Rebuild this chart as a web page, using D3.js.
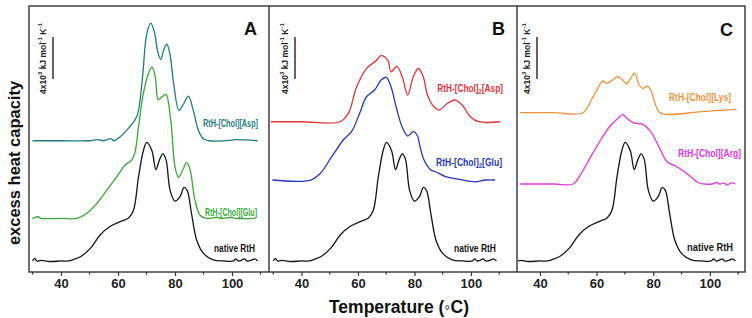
<!DOCTYPE html>
<html>
<head>
<meta charset="utf-8">
<script src="https://cdn.jsdelivr.net/npm/d3@7"></script>
<style>
  body { margin: 0; background: #fff; }
  svg { font-family: "Liberation Sans", Arial, sans-serif; }
</style>
</head>
<body>
<div id="chart"></div>
<script>
// DSC traces, temperature (°C) and excess Cp relative to baseline (10^3 kJ mol-1 K-1)
const nativeT  = [30, 30.8, 31.5, 33, 36, 40, 42.7, 44.5, 46.8, 50.3, 53.8, 57.3, 60.8, 63.7, 65.4, 67.2, 68.9, 70.1, 71.9, 73.3, 74.5, 75.7, 76.8, 78.3, 80.0, 81.7, 83.2, 84.3, 85.8, 87.6, 89.9, 93.4, 97, 100.5, 101.3, 102.2, 103.5, 104.4, 105.2, 107, 108, 109];
const nativeCp = [0, 0.25, 0, 0.05, -0.05, 0, 0, 0.15, 0.4, 1.2, 2.5, 3.3, 3.75, 4.1, 4.8, 8.0, 10.5, 11.3, 10.5, 8.7, 9.6, 10.2, 9.7, 6.7, 5.7, 6.1, 7.0, 6.7, 4.5, 2.0, 0.75, 0.1, 0, 0, 0.2, 0, 0.1, 0.2, 0, 0.1, 0.2, 0];

const aspT  = [30, 40, 50, 53, 55, 57.5, 58.5, 60.2, 63.7, 66.6, 68.4, 70.1, 71.5, 72.8, 74, 75, 76, 77.1, 78.2, 79.5, 81.4, 83, 84.7, 86.4, 88.2, 89.9, 92, 100, 101, 109];
const aspCp = [0, 0, 0, 0.1, 0, 0.2, 0, 0.25, 1.2, 2.3, 5.5, 10.2, 11.2, 10.3, 8.4, 7.75, 8.6, 9.2, 8.3, 5.5, 2.9, 3.5, 4.25, 2.9, 1.0, 0.2, 0, 0.05, 0.1, 0];

const gluT  = [30, 32, 33, 40, 45.6, 49.1, 52.6, 56.1, 59.6, 62.5, 64.8, 66.0, 67.2, 68.9, 70.7, 71.9, 73.0, 74.1, 75.2, 76.8, 78.5, 80.0, 81.2, 82.7, 84.1, 85.3, 87.0, 88.8, 91.1, 95, 96, 100, 101, 108];
const gluCp = [0, 0.15, 0, 0, 0, 0.48, 1.43, 2.7, 3.97, 5.08, 5.55, 6.35, 8.73, 11.9, 13.8, 14.4, 13.6, 11.3, 11.5, 11.8, 9.35, 4.92, 3.9, 4.6, 5.3, 4.6, 1.74, 0.3, 0, 0.1, 0, 0.1, 0, 0];

const asp2T  = [29.1, 40, 53.7, 56.6, 59.5, 63.0, 66.5, 68.2, 70.6, 71.7, 73.8, 75.8, 77.6, 79.6, 81.4, 83.1, 84.6, 86.4, 88.7, 91.6, 94.3, 96.9, 99.8, 102.7, 110.3];
const asp2Cp = [0, 0, 0, 0.8, 3.3, 5.06, 5.84, 6.3, 5.84, 4.76, 5.27, 4.16, 2.54, 4.29, 5.07, 4.29, 2.54, 1.59, 1.11, 1.74, 2.07, 1.59, 0.48, 0, 0];

const glu2T  = [29.7, 43.2, 46.7, 50.7, 54.8, 57.7, 60.6, 63.0, 65.9, 68.2, 70.0, 71.7, 73.5, 75.6, 77.6, 79.6, 81.1, 81.7, 83.4, 85.8, 87.5, 91.0, 95.7, 101.5, 105, 108.5];
const glu2Cp = [0, 0, 0.64, 2.22, 3.81, 4.6, 6.35, 7.93, 8.57, 9.52, 9.78, 8.89, 6.98, 5.08, 4.19, 4.6, 4.19, 3.49, 1.9, 0.95, 0.79, 0.32, 0.07, -0.17, 0, 0];

const lysT  = [33, 45, 55.2, 58.1, 60.4, 62.2, 63.6, 65.7, 67.4, 69.2, 70.6, 72.1, 73.5, 75.0, 76.4, 77.9, 79.1, 80.6, 82.0, 84.3, 97.2, 109.4];
const lysCp = [0, 0, 0, 1.21, 2.32, 3.02, 2.8, 3.12, 3.43, 3.12, 2.76, 3.31, 3.78, 2.64, 2.32, 2.54, 2.16, 0.9, 0.1, -0.15, 0.1, 0.32];

const argT  = [33, 45, 51.7, 54.6, 57.5, 61.0, 64.5, 67.4, 69.2, 70.9, 73.3, 76.2, 79.1, 82.0, 84.9, 88.4, 92.5, 96.0, 100.7, 102.5, 103.5, 105, 106, 107.5, 109];
const argCp = [0, 0, 0, 1.02, 2.4, 4.0, 5.43, 6.22, 6.6, 6.22, 5.8, 5.71, 4.98, 3.55, 2.12, 1.64, 0.86, 0.12, 0, 0.15, 0, 0.1, -0.1, 0.1, 0];

const seriesNames = {
  native: "native RtH",
  asp: "RtH-[Chol][Asp]",
  glu: "RtH-[Chol][Glu]",
  asp2: "RtH-[Chol]2[Asp]",
  glu2: "RtH-[Chol]2[Glu]",
  lys: "RtH-[Chol][Lys]",
  arg: "RtH-[Chol][Arg]"
};
const majorTicks = [40, 60, 80, 100];
const minorTicks = [30, 50, 70, 90, 110];

// layout
const W = 752, H = 318;
const plotTop = 6, plotBottom = 272;
const colour = {
  native: "#151515", asp: "#1f7b7e", glu: "#38a935", asp2: "#e3343a",
  glu2: "#2438b8", lys: "#f0913a", arg: "#e236e2"
};

// shared y scale, units of 10^3 kJ mol-1 K-1
const y = d3.scaleLinear().domain([0, (plotBottom - plotTop) / 10.5]).range([plotBottom, plotTop]);

const panels = [
  { letter: "A", x0: 29, x1: 269, domain: [28.77, 112.98], barX: 53, letterY: 35,
    series: [
      { key: "asp", T: aspT, Cp: aspCp, offset: 12.5, lx: 258, ly: 127, lw: 55 },
      { key: "glu", T: gluT, Cp: gluCp, offset: 5.11, lx: 257, ly: 216, lw: 52 },
      { key: "native", T: nativeT, Cp: nativeCp, offset: 1.05, lx: 255, ly: 252, lw: 41 }
    ] },
  { letter: "B", x0: 269, x1: 517, domain: [28.5, 116.3], barX: 295, letterY: 35,
    series: [
      { key: "asp2", T: asp2T, Cp: asp2Cp, offset: 14.31, lx: 503, ly: 92, lw: 66, sub: true },
      { key: "glu2", T: glu2T, Cp: glu2Cp, offset: 8.76, lx: 502, ly: 166, lw: 66, sub: true },
      { key: "native", T: nativeT, Cp: nativeCp, offset: 1.05, lx: 496, ly: 252, lw: 42 }
    ] },
  { letter: "C", x0: 517, x1: 745, domain: [31.9, 112.4], barX: 537, letterY: 36,
    series: [
      { key: "lys", T: lysT, Cp: lysCp, offset: 15.17, lx: 731, ly: 101, lw: 62 },
      { key: "arg", T: argT, Cp: argCp, offset: 8.38, lx: 741, ly: 157, lw: 63 },
      { key: "native", T: nativeT, Cp: nativeCp, offset: 1.05, lx: 733, ly: 251, lw: 46 }
    ] }
];

const svg = d3.select("#chart").append("svg")
  .attr("width", W).attr("height", H);

const defs = svg.append("defs");

panels.forEach((p, i) => {
  const x = d3.scaleLinear().domain(p.domain).range([p.x0, p.x1]);
  const g = svg.append("g");

  defs.append("clipPath").attr("id", "clip" + i)
    .append("rect").attr("x", p.x0 + 1).attr("y", plotTop)
    .attr("width", p.x1 - p.x0 - 2).attr("height", plotBottom - plotTop);

  // curves
  const line = d3.line()
    .x(d => x(d[0]))
    .y(d => y(d[1]))
    .curve(d3.curveCatmullRom.alpha(0.5));

  p.series.forEach(s => {
    const pts = s.T.map((t, j) => [t, s.Cp[j] + s.offset]);
    g.append("path")
      .datum(pts)
      .attr("clip-path", `url(#clip${i})`)
      .attr("fill", "none")
      .attr("stroke", colour[s.key])
      .attr("stroke-width", 1.3)
      .attr("d", line);

    // label, squeezed horizontally to the narrow face used in the figure
    const t = g.append("text")
      .attr("text-anchor", "end")
      .attr("font-size", "10px")
      .attr("font-weight", "bold")
      .attr("fill", colour[s.key]);
    if (s.sub) {
      const parts = seriesNames[s.key].split("2");
      t.append("tspan").text(parts[0]);
      t.append("tspan").attr("font-size", "7px").attr("dy", 2).text("2");
      t.append("tspan").attr("dy", -2).text(parts[1]);
    } else {
      t.text(seriesNames[s.key]);
    }
    const k = s.lw / t.node().getComputedTextLength();
    t.attr("transform", `translate(${s.lx},${s.ly}) scale(${k},1)`);
  });

  // bottom axis: major + minor ticks
  const axis = g.append("g")
    .attr("transform", `translate(0,${plotBottom})`)
    .call(d3.axisBottom(x).tickValues(majorTicks).tickSize(4).tickPadding(3));
  axis.select(".domain").remove();
  axis.selectAll("line").attr("stroke", "#333").attr("stroke-width", 1.2);
  axis.selectAll("text")
    .attr("font-size", "13px").attr("font-weight", "bold")
    .attr("fill", "#222").attr("font-family", "Liberation Sans, Arial, sans-serif");

  g.selectAll(".minor")
    .data(minorTicks.filter(v => x(v) > p.x0 + 1 && x(v) < p.x1 - 1))
    .enter().append("line")
    .attr("x1", d => x(d)).attr("x2", d => x(d))
    .attr("y1", plotBottom).attr("y2", plotBottom + 2.5)
    .attr("stroke", "#333").attr("stroke-width", 1.2);

  // panel letter
  g.append("text")
    .attr("x", p.x1 - 12).attr("y", p.letterY)
    .attr("text-anchor", "end")
    .attr("font-size", "18px").attr("font-weight", "bold")
    .attr("fill", "#111")
    .text(p.letter);

  // scale bar, 4 x 10^3 kJ mol-1 K-1
  const barTop = 22.38;
  g.append("line")
    .attr("x1", p.barX).attr("x2", p.barX)
    .attr("y1", y(barTop)).attr("y2", y(barTop - 4))
    .attr("stroke", "#222").attr("stroke-width", 1.4);

  const lab = g.append("text")
    .attr("transform", `translate(${p.barX - 7},94) rotate(-90)`)
    .attr("font-size", "8.5px").attr("font-weight", "bold").attr("fill", "#222");
  lab.append("tspan").text("4x10");
  lab.append("tspan").attr("dy", -4).attr("font-size", "6px").text("3");
  lab.append("tspan").attr("dy", 4).text(" kJ mol");
  lab.append("tspan").attr("dy", -4).attr("font-size", "6px").text("-1");
  lab.append("tspan").attr("dy", 4).text(" K");
  lab.append("tspan").attr("dy", -4).attr("font-size", "6px").text("-1");
});

// frame
svg.append("rect")
  .attr("x", 29).attr("y", plotTop)
  .attr("width", 745 - 29).attr("height", plotBottom - plotTop)
  .attr("fill", "none").attr("stroke", "#333").attr("stroke-width", 1.4);
[269, 517].forEach(xv => {
  svg.append("line")
    .attr("x1", xv).attr("x2", xv).attr("y1", plotTop).attr("y2", plotBottom)
    .attr("stroke", "#333").attr("stroke-width", 1.4);
});

// axis titles
svg.append("text")
  .attr("transform", `translate(20,163) rotate(-90)`)
  .attr("text-anchor", "middle")
  .attr("font-size", "16.5px").attr("font-weight", "bold").attr("fill", "#111")
  .text("excess heat capacity");

svg.append("text")
  .attr("x", 399).attr("y", 313)
  .attr("text-anchor", "middle")
  .attr("font-size", "17.5px").attr("font-weight", "bold").attr("fill", "#111")
  .text("Temperature (\u25E6C)");
</script>
</body>
</html>
